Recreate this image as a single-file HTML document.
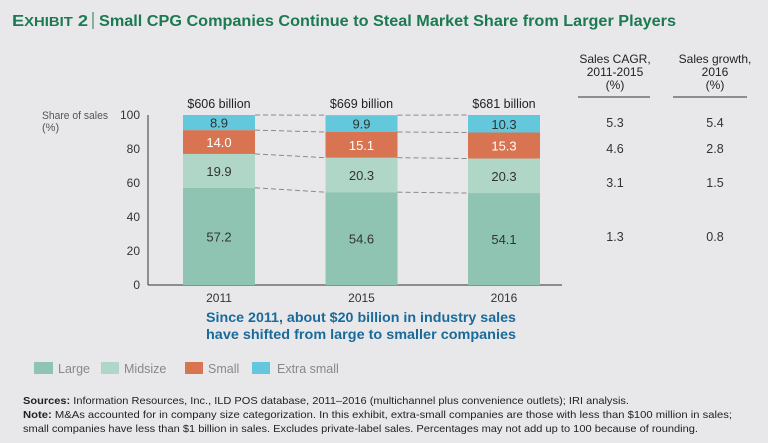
<!DOCTYPE html>
<html><head><meta charset="utf-8"><style>
body{margin:0;background:#e8e8ea;}
svg{display:block;font-family:"Liberation Sans",sans-serif;}
</style></head><body>
<svg id="c" width="768" height="443" viewBox="0 0 768 443" xmlns="http://www.w3.org/2000/svg">
<rect width="768" height="443" fill="#e8e8ea"/>
<g font-weight="bold" fill="#1b7a52">
<text x="12" y="26" font-size="16" textLength="76" lengthAdjust="spacingAndGlyphs">E<tspan font-size="13">XHIBIT</tspan> 2</text>
<line x1="93" y1="12" x2="93" y2="29" stroke="#1b7a52" stroke-width="1"/>
<text x="99" y="26" font-size="16" textLength="577" lengthAdjust="spacingAndGlyphs">Small CPG Companies Continue to Steal Market Share from Larger Players</text>
</g>
<g font-size="11" fill="#555">
<text x="42" y="119" textLength="66" lengthAdjust="spacingAndGlyphs">Share of sales</text>
<text x="42" y="131">(%)</text>
</g>
<g font-size="12" fill="#222" text-anchor="middle">
<text x="615" y="63">Sales CAGR,</text><text x="615" y="76">2011-2015</text><text x="615" y="89">(%)</text>
<text x="715" y="63">Sales growth,</text><text x="715" y="76">2016</text><text x="715" y="89">(%)</text>
<line x1="578" y1="97" x2="650" y2="97" stroke="#333"/>
<line x1="673" y1="97" x2="747" y2="97" stroke="#333"/>
</g>
<g id="plot"></g>
<g font-size="14" font-weight="bold" fill="#1a6a9a" text-anchor="middle">
<text x="361" y="322" textLength="310" lengthAdjust="spacingAndGlyphs">Since 2011, about $20 billion in industry sales</text>
<text x="361" y="339" textLength="310" lengthAdjust="spacingAndGlyphs">have shifted from large to smaller companies</text>
</g>
<g font-size="12.5" fill="#888">
<rect x="34" y="362" width="19" height="12" fill="#8fc4b3"/><text x="58" y="373">Large</text>
<rect x="101" y="362" width="18" height="12" fill="#b0d6c8"/><text x="124" y="373">Midsize</text>
<rect x="185" y="362" width="18" height="12" fill="#d87451"/><text x="208" y="373">Small</text>
<rect x="252" y="362" width="18" height="12" fill="#63c8dc"/><text x="277" y="373">Extra small</text>
</g>
<g font-size="10.5" fill="#222">
<text x="23" y="404" textLength="606" lengthAdjust="spacingAndGlyphs"><tspan font-weight="bold">Sources:</tspan> Information Resources, Inc., ILD POS database, 2011–2016 (multichannel plus convenience outlets); IRI analysis.</text>
<text x="23" y="418" textLength="709" lengthAdjust="spacingAndGlyphs"><tspan font-weight="bold">Note:</tspan> M&amp;As accounted for in company size categorization. In this exhibit, extra-small companies are those with less than $100 million in sales;</text>
<text x="23" y="432" textLength="675" lengthAdjust="spacingAndGlyphs">small companies have less than $1 billion in sales. Excludes private-label sales. Percentages may not add up to 100 because of rounding.</text>
</g>
</svg>
<script>
const years = ["2011","2015","2016"];
const totals = ["$606 billion","$669 billion","$681 billion"];
const large = [57.2,54.6,54.1];
const midsize = [19.9,20.3,20.3];
const small = [14.0,15.1,15.3];
const extraSmall = [8.9,9.9,10.3];
const yTicks = [0,20,40,60,80,100];
const cagr = [5.3,4.6,3.1,1.3];
const growth2016 = [5.4,2.8,1.5,0.8];

const NS="http://www.w3.org/2000/svg";
const g=document.getElementById('plot');
const y0=285, y100=115, axisX=148, barW=72;
const y=v=>y0-(v/100)*(y0-y100);
const xc=i=>219+i*142.5;
function mk(t,a){const e=document.createElementNS(NS,t);for(const k in a)e.setAttribute(k,a[k]);g.appendChild(e);return e;}
let ax=mk('line',{x1:axisX,y1:y100,x2:axisX,y2:y0,stroke:'#333'});


let bx=mk('line',{x1:axisX,y1:y0,x2:562,y2:y0,stroke:'#333'});


yTicks.forEach(t=>{const e=mk('text',{x:140,y:y(t)+4,'font-size':12,fill:'#333','text-anchor':'end'});e.textContent=t;

});
const series=[{v:large,c:'#8fc4b3',n:'large',tc:'#333'},{v:midsize,c:'#b0d6c8',n:'midsize',tc:'#333'},{v:small,c:'#d87451',n:'small',tc:'#fff'},{v:extraSmall,c:'#63c8dc',n:'extra-small',tc:'#333'}];
const bounds=years.map(()=>[]);
years.forEach((yr,i)=>{let acc=0;
 series.forEach(s=>{const v=s.v[i];const top=y(acc+v),bot=y(acc);
  const r=mk('rect',{x:xc(i)-barW/2,y:top,width:barW,height:bot-top,fill:s.c});
  
  
  const t=mk('text',{x:xc(i),y:(top+bot)/2+5,'font-size':13,fill:s.tc,'text-anchor':'middle'});t.textContent=v.toFixed(1);
  
  
  acc+=v;bounds[i].push(top);});
 const l=mk('text',{x:xc(i),y:108,'font-size':12.5,fill:'#222','text-anchor':'middle'});l.textContent=totals[i];
 
 
 const xl=mk('text',{x:xc(i),y:302,'font-size':12,fill:'#333','text-anchor':'middle'});xl.textContent=yr;
 
 
});
for(let i=0;i<years.length-1;i++){for(let k=0;k<4;k++){
 const d=mk('line',{x1:xc(i)+barW/2,y1:bounds[i][k],x2:xc(i+1)-barW/2,y2:bounds[i+1][k],stroke:'#8a8a8a','stroke-dasharray':'5,3'});
 
 }}
const rowY=[127,153,187,241];
[extraSmall,small,midsize,large].forEach((_,r)=>{
 const a=mk('text',{x:615,y:rowY[r],'font-size':12.5,fill:'#333','text-anchor':'middle'});a.textContent=cagr[r].toFixed(1);
 
 
 const b=mk('text',{x:715,y:rowY[r],'font-size':12.5,fill:'#333','text-anchor':'middle'});b.textContent=growth2016[r].toFixed(1);
 
 
});
</script>
</body></html>
